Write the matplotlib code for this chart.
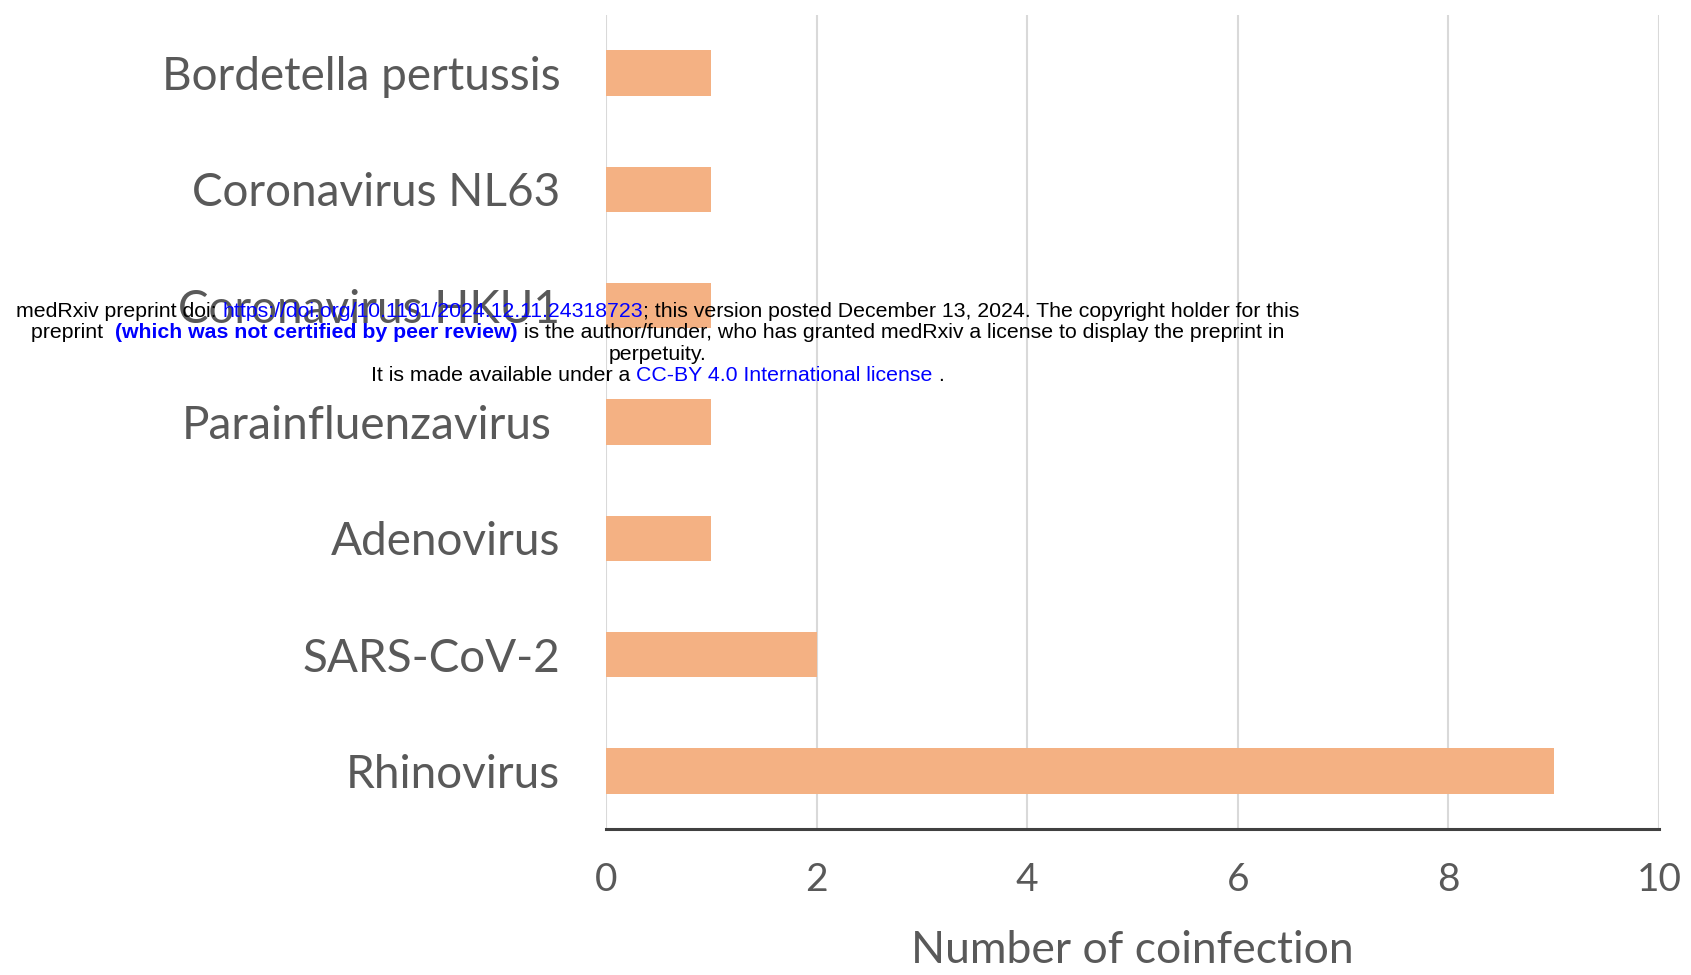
import matplotlib
matplotlib.use("Agg")
import matplotlib.pyplot as plt
import matplotlib.transforms as mtransforms

# --- DATA ---
PATHOGENS = ["Rhinovirus", "SARS-CoV-2", "Adenovirus", "Parainfluenzavirus",
             "Coronavirus HKU1", "Coronavirus NL63", "Bordetella pertussis"]
COUNTS = [9, 2, 1, 1, 1, 1, 1]
X_TICKS = [0, 2, 4, 6, 8, 10]

# --- STYLE ---
BAR_COLOR = "#F4B183"
GRID_COLOR = "#D9D9D9"
TEXT_COLOR = "#595959"
LABEL_FONT = "Lato"
LINK_BLUE = "#0000FF"

# watermark lines: list of (text, color, weight)
BANNER = [
    [("medRxiv preprint doi: ", "black", "normal"),
     ("https://doi.org/10.1101/2024.12.11.24318723", LINK_BLUE, "normal"),
     ("; this version posted December 13, 2024. The copyright holder for this", "black", "normal")],
    [("preprint  ", "black", "normal"),
     ("(which was not certified by peer review)", LINK_BLUE, "bold"),
     (" is the author/funder, who has granted medRxiv a license to display the preprint in", "black", "normal")],
    [("perpetuity.", "black", "normal")],
    [("It is made available under a ", "black", "normal"),
     ("CC-BY 4.0 International license", LINK_BLUE, "normal"),
     (" .", "black", "normal")],
]


def draw_banner(fig, lines, x_center, y_top, line_h, size):
    """Draw centered multi-colour lines of text, piece by piece."""
    renderer = fig.canvas.get_renderer()
    for i, pieces in enumerate(lines):
        y = y_top - i * line_h
        texts = []
        for s, c, w in pieces:
            t = fig.text(0, y, s, color=c, fontweight=w, fontsize=size,
                         family="Liberation Sans", va="center", ha="left")
            texts.append(t)
        widths = [t.get_window_extent(renderer).width / fig.bbox.width for t in texts]
        x = x_center - sum(widths) / 2
        for t, w in zip(texts, widths):
            t.set_x(x)
            x += w


fig = plt.figure(figsize=(16.91, 9.75), dpi=100)
ax = fig.add_axes([0.3584, 0.1497, 0.6226, 0.8349])

ypos = list(range(len(PATHOGENS)))
ax.barh(ypos, COUNTS, height=0.39, color=BAR_COLOR, zorder=2)

ax.set_xlim(0, 10)
ax.set_ylim(-0.5, len(PATHOGENS) - 0.5)
ax.set_xticks(X_TICKS)
ax.set_yticks(ypos)
ax.set_yticklabels(PATHOGENS)

ax.grid(axis="x", color=GRID_COLOR, linewidth=1.5, zorder=0)
for side in ["top", "right", "left"]:
    ax.spines[side].set_visible(False)
ax.spines["bottom"].set_color("#404040")
ax.spines["bottom"].set_linewidth(2.2)
ax.spines["bottom"].set_zorder(3)

ax.tick_params(axis="y", length=0, pad=33, labelsize=33, labelcolor=TEXT_COLOR)
ax.tick_params(axis="x", length=0, pad=24, labelsize=28, labelcolor=TEXT_COLOR)
for lab in ax.get_yticklabels() + ax.get_xticklabels():
    lab.set_family(LABEL_FONT)

# the Parainfluenzavirus label sits a little further left in the original
para = ax.get_yticklabels()[PATHOGENS.index("Parainfluenzavirus")]
para.set_transform(para.get_transform() +
                   mtransforms.ScaledTranslation(-9 / 100, 0, fig.dpi_scale_trans))

ax.set_xlabel("Number of coinfection", fontsize=32, color=TEXT_COLOR,
              family=LABEL_FONT, labelpad=23)

draw_banner(fig, BANNER, 0.389, 1 - 311.5 / 975, 21.3 / 975, 15.3)

fig.savefig("out.png", dpi=100)
